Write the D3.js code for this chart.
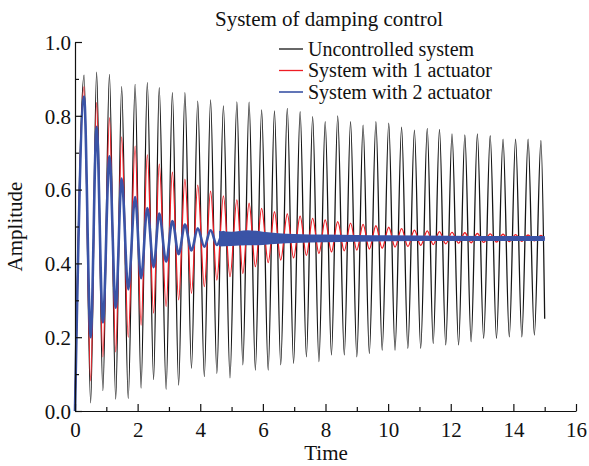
<!DOCTYPE html>
<html>
<head>
<meta charset="utf-8">
<script src="https://cdn.jsdelivr.net/npm/d3@7/dist/d3.min.js"></script>
<style>
  html, body { margin: 0; padding: 0; background: #fff; }
  svg { display: block; }
  text { font-family: "Liberation Serif", "Times New Roman", serif; fill: #111; }
</style>
</head>
<body>
<svg id="chart" width="589" height="466"></svg>
<script>
// ---------------- data ----------------
const xTicksMajor = [0, 2, 4, 6, 8, 10, 12, 14, 16];
const xTicksMinor = [1, 3, 5, 7, 9, 11, 13, 15];
const yTicksMajor = [0, 0.2, 0.4, 0.6, 0.8, 1.0];
const yTicksMinor = [0.1, 0.3, 0.5, 0.7, 0.9];

const seriesNames = ["Uncontrolled system", "System with 1 actuator", "System with 2 actuator"];

// times of the local maxima / minima of the oscillations
const peakT = [0.29, 0.69, 1.10, 1.49, 1.92, 2.31, 2.69, 3.11, 3.51, 3.92, 4.33, 4.74, 5.17,
  5.56, 5.96, 6.37, 6.78, 7.19, 7.59, 7.99, 8.39, 8.80, 9.20, 9.61, 10.02, 10.43,
  10.84, 11.25, 11.64, 12.04, 12.45, 12.85, 13.26, 13.67, 14.07, 14.47, 14.88];
const troughT = [0.50, 0.89, 1.30, 1.70, 2.11, 2.51, 2.91, 3.31, 3.72, 4.13, 4.53, 4.95,
  5.36, 5.76, 6.17, 6.57, 6.98, 7.39, 7.79, 8.19, 8.60, 9.00, 9.40, 9.81, 10.22, 10.63,
  11.04, 11.44, 11.84, 12.25, 12.65, 13.05, 13.46, 13.87, 14.27, 14.67];

// Uncontrolled system
const blackPeak = [0.91, 0.918, 0.912, 0.879, 0.885, 0.89, 0.876, 0.863, 0.863, 0.84, 0.843, 0.827, 0.838,
  0.837, 0.816, 0.813, 0.82, 0.811, 0.798, 0.784, 0.80, 0.784, 0.775, 0.784, 0.78, 0.769,
  0.761, 0.766, 0.763, 0.751, 0.748, 0.751, 0.746, 0.737, 0.737, 0.737, 0.733];
const blackTrough = [0.022, 0.055, 0.032, 0.034, 0.062, 0.085, 0.059, 0.07, 0.116, 0.093, 0.102, 0.09,
  0.125, 0.111, 0.111, 0.125, 0.129, 0.147, 0.134, 0.152, 0.152, 0.147, 0.156, 0.165, 0.165, 0.17,
  0.17, 0.183, 0.179, 0.179, 0.188, 0.197, 0.197, 0.201, 0.201, 0.206];
const blackStart = [0, 0];
const blackEnd = [15.0, 0.25];

// System with 1 actuator
const redPeak = [0.879, 0.836, 0.795, 0.743, 0.718, 0.694, 0.669, 0.647, 0.628, 0.612, 0.596, 0.583, 0.572,
  0.563, 0.549, 0.54, 0.534, 0.528, 0.522, 0.518, 0.513, 0.509, 0.506, 0.502, 0.498, 0.494,
  0.49, 0.488, 0.486, 0.484, 0.483, 0.481, 0.48, 0.479, 0.478, 0.477, 0.476];
const redTrough = [0.082, 0.147, 0.16, 0.2, 0.233, 0.265, 0.283, 0.301, 0.319, 0.337, 0.355, 0.364,
  0.373, 0.391, 0.402, 0.409, 0.415, 0.422, 0.427, 0.431, 0.434, 0.436, 0.439, 0.441, 0.444, 0.446,
  0.449, 0.451, 0.453, 0.455, 0.456, 0.457, 0.458, 0.459, 0.46, 0.461];
const redStart = [0, 0];
const redEnd = [15.0, 0.467];

// System with 2 actuator (centre line) and its noise band once settled
const blueT = [0, 0.29, 0.50, 0.69, 0.89, 1.10, 1.30, 1.49, 1.70, 1.92, 2.11, 2.31, 2.51, 2.69,
  2.91, 3.11, 3.31, 3.51, 3.72, 3.92, 4.13, 4.33, 4.53, 4.74, 4.95, 5.17, 5.40, 15.0];
const blueV = [0, 0.852, 0.20, 0.77, 0.24, 0.69, 0.28, 0.63, 0.33, 0.58, 0.36, 0.55, 0.39, 0.535,
  0.405, 0.515, 0.425, 0.505, 0.435, 0.495, 0.445, 0.49, 0.45, 0.485, 0.455, 0.48, 0.467, 0.467];
const blueBandT  = [4.6, 5.0, 5.5, 6.0, 6.5, 7.0, 8.0, 9.0, 10.0, 12.0, 15.0];
const blueBandHi = [0.488, 0.486, 0.49, 0.486, 0.482, 0.48, 0.478, 0.477, 0.476, 0.475, 0.474];
const blueBandLo = [0.446, 0.447, 0.449, 0.45, 0.453, 0.455, 0.457, 0.459, 0.46, 0.461, 0.461];

// ---------------- chart ----------------
const colors = ["#151515", "#ee1c24", "#3a53a6"];
const svg = d3.select("#chart");
const x = d3.scaleLinear().domain([0, 16]).range([75, 576]);
const y = d3.scaleLinear().domain([0, 1]).range([411, 42]);

function buildSeries(start, peaks, troughs, end) {
  const pts = [start];
  peakT.forEach((t, i) => pts.push([t, peaks[i]]));
  troughT.forEach((t, i) => pts.push([t, troughs[i]]));
  pts.push(end);
  return pts.sort((a, b) => a[0] - b[0]);
}
const blackData = buildSeries(blackStart, blackPeak, blackTrough, blackEnd);
const redData = buildSeries(redStart, redPeak, redTrough, redEnd);
const blueData = blueT.map((t, i) => [t, blueV[i]]);
const bandData = blueBandT.map((t, i) => [t, blueBandLo[i], blueBandHi[i]]);

const line = d3.line().x(d => x(d[0])).y(d => y(d[1])).curve(d3.curveMonotoneX);

svg.append("path").datum(blackData).attr("d", line)
  .attr("fill", "none").attr("stroke", colors[0]).attr("stroke-width", 1.3);
svg.append("path").datum(redData).attr("d", line)
  .attr("fill", "none").attr("stroke", colors[1]).attr("stroke-width", 1.3);
svg.append("path").datum(bandData)
  .attr("d", d3.area().x(d => x(d[0])).y0(d => y(d[1])).y1(d => y(d[2])).curve(d3.curveMonotoneX))
  .attr("fill", colors[2]);
svg.append("path").datum(blueData).attr("d", line)
  .attr("fill", "none").attr("stroke", colors[2]).attr("stroke-width", 2.6);

// axes
const axisG = svg.append("g");
const xMaj = axisG.append("g").attr("transform", `translate(0,${y(0)})`)
  .call(d3.axisBottom(x).tickValues(xTicksMajor).tickSize(-7).tickSizeOuter(0).tickPadding(11)
    .tickFormat(d3.format("d")));
axisG.append("g").attr("transform", `translate(0,${y(0)})`)
  .call(d3.axisBottom(x).tickValues(xTicksMinor).tickSize(-4).tickSizeOuter(0).tickFormat(""))
  .select(".domain").remove();
const yMaj = axisG.append("g").attr("transform", `translate(${x(0)},0)`)
  .call(d3.axisLeft(y).tickValues(yTicksMajor).tickSize(-7).tickSizeOuter(0).tickPadding(4)
    .tickFormat(d3.format(".1f")));
axisG.append("g").attr("transform", `translate(${x(0)},0)`)
  .call(d3.axisLeft(y).tickValues(yTicksMinor).tickSize(-4).tickSizeOuter(0).tickFormat(""))
  .select(".domain").remove();

axisG.selectAll("path.domain").attr("stroke", "#111").attr("stroke-width", 1.2);
axisG.selectAll(".tick line").attr("stroke", "#111").attr("stroke-width", 1.2);
axisG.selectAll(".tick text").attr("font-family", "Liberation Serif, Times New Roman, serif")
  .attr("font-size", 21).attr("fill", "#111");
xMaj.selectAll(".tick text").attr("dy", "0.71em");
yMaj.selectAll(".tick text").attr("dy", "0.35em");

// titles
svg.append("text").attr("x", 329).attr("y", 26).attr("text-anchor", "middle")
  .attr("font-size", 21).text("System of damping control");
svg.append("text").attr("x", 326).attr("y", 460).attr("text-anchor", "middle")
  .attr("font-size", 21).text("Time");
svg.append("text").attr("transform", `translate(22,${(y(0) + y(1)) / 2}) rotate(-90)`)
  .attr("text-anchor", "middle").attr("font-size", 21).text("Amplitude");

// legend
const leg = svg.append("g");
seriesNames.forEach((name, i) => {
  const ly = 49 + i * 21.5;
  leg.append("line").attr("x1", 279).attr("x2", 303).attr("y1", ly).attr("y2", ly)
    .attr("stroke", colors[i]).attr("stroke-width", i === 2 ? 1.6 : 1.3);
  leg.append("text").attr("x", 308).attr("y", ly + 6.5).attr("font-size", 20).text(name);
});
</script>
</body>
</html>
